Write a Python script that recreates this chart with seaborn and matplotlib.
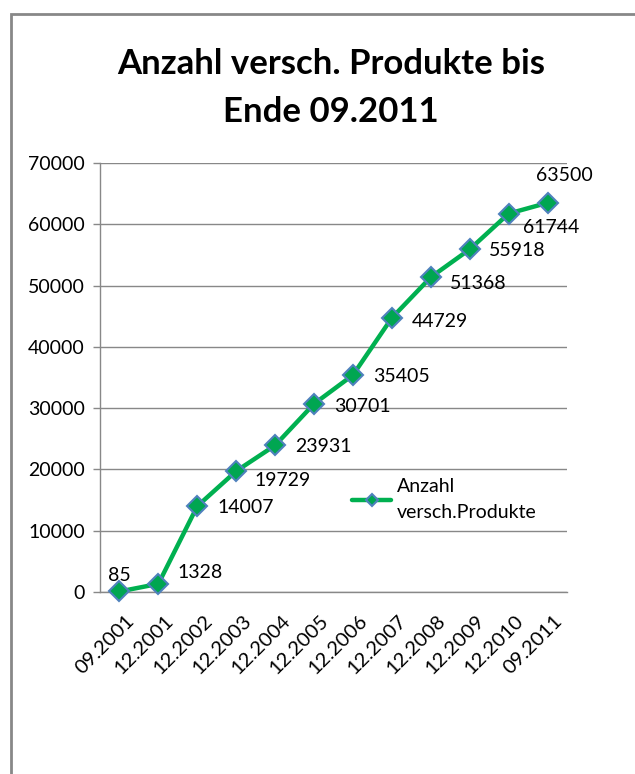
import matplotlib
matplotlib.use('Agg')
import matplotlib.pyplot as plt
import pandas as pd
import seaborn as sns
from matplotlib.patches import Rectangle
from matplotlib.ticker import MultipleLocator, FixedLocator
from matplotlib.transforms import ScaledTranslation

# Daten
monate = ['09.2001', '12.2001', '12.2002', '12.2003', '12.2004', '12.2005',
          '12.2006', '12.2007', '12.2008', '12.2009', '12.2010', '09.2011']
anzahl = [85, 1328, 14007, 19729, 23931, 30701, 35405, 44729, 51368, 55918, 61744, 63500]
serie = 'Anzahl\nversch.Produkte'
titel = 'Anzahl versch. Produkte bis\nEnde 09.2011'

# Versatz der Datenbeschriftung in Pixel (x, y nach unten, Ausrichtung)
versatz = [(0, -16, 'center'), (19, -11, 'left'), (20, 1, 'left'), (18, 9, 'left'),
           (20, 1, 'left'), (20, 3, 'left'), (20, 1, 'left'), (20, 4, 'left'),
           (19, 6, 'left'), (19, 1, 'left'), (14, 14, 'left'), (17, -27, 'center')]

df = pd.DataFrame({'Monat': monate, 'Anzahl': anzahl})

sns.set_style('white')
plt.rcParams['font.family'] = ['Lato', 'DejaVu Sans']
plt.rcParams['text.color'] = 'black'
plt.rcParams['xtick.color'] = 'black'
plt.rcParams['ytick.color'] = 'black'

fig = plt.figure(figsize=(6.35, 7.74), dpi=100)
ax = fig.add_axes([100/635, 1-592/774, 467/635, 429/774])

sns.lineplot(data=df, x='Monat', y='Anzahl', sort=False, ax=ax, label=serie,
             color='#00B050', linewidth=3.2, marker='D', markersize=10,
             markerfacecolor='#00A651', markeredgecolor='#4F81BD',
             markeredgewidth=1.5, clip_on=False, zorder=5)

ax.set_xlim(-0.5, len(monate) - 0.5)
ax.set_ylim(0, 70000)
ax.yaxis.set_major_locator(MultipleLocator(10000))
ax.grid(axis='y', color='#888888', linewidth=1)
ax.set_xlabel('')
ax.set_ylabel('')

for s in ['top', 'right']:
    ax.spines[s].set_visible(False)
for s in ['left', 'bottom']:
    ax.spines[s].set_color('#888888')
    ax.spines[s].set_linewidth(1)

# Striche zwischen den Kategorien wie in Excel
ax.xaxis.set_minor_locator(FixedLocator([i - 0.5 for i in range(len(monate) + 1)]))
ax.tick_params(axis='x', which='major', length=0, pad=13, labelsize=14.5)
ax.tick_params(axis='x', which='minor', length=5, color='#888888', width=1)
ax.tick_params(axis='y', which='major', length=5, color='#888888', width=1,
               labelsize=14, pad=6, left=True, labelcolor='black')
ax.tick_params(axis='x', labelcolor='black')
verschieb = ScaledTranslation(6/100, -2/100, fig.dpi_scale_trans)
for t in ax.get_xticklabels():
    t.set_rotation(45)
    t.set_ha('right')
    t.set_rotation_mode('anchor')
    t.set_transform(t.get_transform() + verschieb)

for i, (w, (dx, dy, ha)) in enumerate(zip(anzahl, versatz)):
    ax.annotate(str(w), (i, w), xytext=(dx, -dy), textcoords='offset pixels',
                ha=ha, va='center', fontsize=14, annotation_clip=False)

leg = ax.legend(frameon=False, loc='center left', bbox_to_anchor=(0.54, 0.215),
                borderaxespad=0, borderpad=0, handlelength=2.0, handletextpad=0.3,
                fontsize=14, markerscale=0.6)
for t in leg.get_texts():
    t.set_linespacing(1.65)

fig.text(331/635, 1-88/774, titel, ha='center', va='center', fontsize=25,
         fontweight='bold', linespacing=1.65)

fig.patches.append(Rectangle((11/635, -0.1), 1.2, 1.1 - 14/774, fill=False,
                             edgecolor='#888888', linewidth=2,
                             transform=fig.transFigure, figure=fig))

fig.savefig('out.png', dpi=100)
